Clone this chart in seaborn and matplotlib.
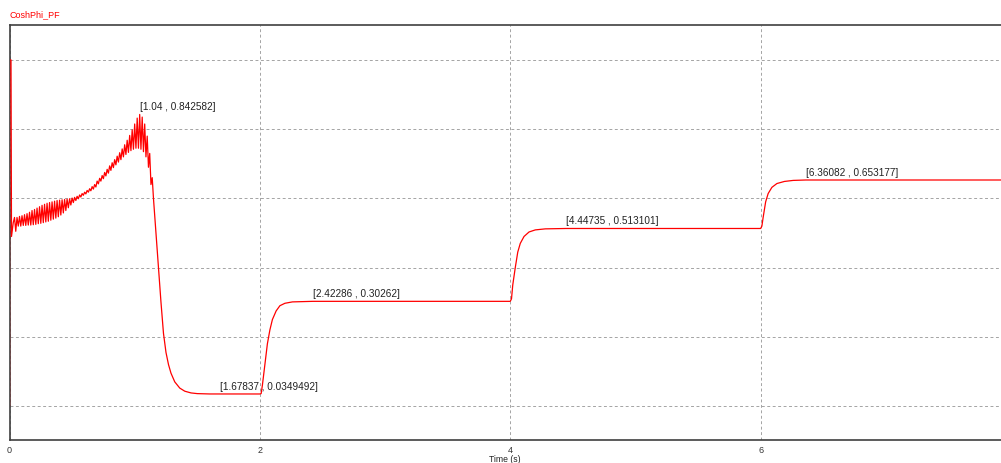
import numpy as np
import pandas as pd
import matplotlib
matplotlib.use("Agg")
import matplotlib.pyplot as plt
import seaborn as sns

# ---- power-factor trace (time in s, CoshPhi) ----
# start-up transient before the ripple
start_t = [0.0, 0.0, 0.012, 0.016, 0.03]
start_v = [0.0, 1.0, 1.0, 0.49, 0.53]

# 50 Hz ripple: crest values at ripple_t, trough values half a period later
ripple_t = [0.04, 0.06, 0.08, 0.10, 0.12, 0.14, 0.16, 0.18, 0.20, 0.22,
            0.24, 0.26, 0.28, 0.30, 0.32, 0.34, 0.36, 0.38, 0.40, 0.42,
            0.44, 0.46, 0.48, 0.50, 0.52, 0.54, 0.56, 0.58, 0.60, 0.62,
            0.64, 0.66, 0.68, 0.70, 0.72, 0.74, 0.76, 0.78, 0.80, 0.82,
            0.84, 0.86, 0.88, 0.90, 0.92, 0.94, 0.96, 0.98, 1.00, 1.02,
            1.04, 1.06, 1.08, 1.10, 1.12]
ripple_hi = [0.545, 0.545, 0.548, 0.550, 0.553, 0.556, 0.560, 0.565, 0.568, 0.572,
             0.576, 0.580, 0.583, 0.586, 0.588, 0.590, 0.592, 0.594, 0.595, 0.596,
             0.597, 0.598, 0.599, 0.601, 0.603, 0.606, 0.610, 0.614, 0.618, 0.623,
             0.628, 0.634, 0.640, 0.650, 0.658, 0.666, 0.675, 0.684, 0.694, 0.703,
             0.712, 0.722, 0.732, 0.743, 0.755, 0.768, 0.782, 0.798, 0.815, 0.832,
             0.842582, 0.835, 0.815, 0.780, 0.730]
ripple_lo = [0.505, 0.520, 0.520, 0.522, 0.522, 0.523, 0.523, 0.524, 0.525, 0.527,
             0.528, 0.530, 0.532, 0.534, 0.537, 0.540, 0.543, 0.547, 0.552, 0.558,
             0.565, 0.573, 0.581, 0.588, 0.594, 0.599, 0.604, 0.609, 0.613, 0.618,
             0.622, 0.627, 0.633, 0.642, 0.650, 0.657, 0.665, 0.673, 0.681, 0.689,
             0.697, 0.705, 0.712, 0.720, 0.727, 0.733, 0.738, 0.742, 0.745, 0.745,
             0.742, 0.735, 0.720, 0.690, 0.640]
ripple_half_period = 0.01

# collapse, then three load steps
rest_t = [1.14, 1.15, 1.17, 1.19, 1.21, 1.23, 1.25, 1.27, 1.29, 1.32, 1.36,
          1.40, 1.45, 1.50, 1.60, 1.67837, 2.0,
          2.01, 2.02, 2.04, 2.06, 2.08, 2.10, 2.13, 2.16, 2.20, 2.26, 2.42286, 4.0,
          4.01, 4.02, 4.04, 4.06, 4.08, 4.11, 4.15, 4.20, 4.28, 4.44735, 6.0,
          6.01, 6.02, 6.04, 6.06, 6.09, 6.13, 6.19, 6.26, 6.36082, 7.92]
rest_v = [0.66, 0.60, 0.50, 0.40, 0.30, 0.21, 0.155, 0.12, 0.095, 0.07, 0.052,
          0.043, 0.038, 0.036, 0.035, 0.0349492, 0.0349492,
          0.036, 0.06, 0.12, 0.18, 0.22, 0.25, 0.275, 0.29, 0.297, 0.301, 0.30262, 0.30262,
          0.31, 0.35, 0.40, 0.445, 0.47, 0.49, 0.503, 0.509, 0.512, 0.513101, 0.513101,
          0.52, 0.545, 0.59, 0.614, 0.632, 0.643, 0.649, 0.652, 0.653177, 0.653177]

# labelled points (t, value)
marker_t = [1.04, 1.67837, 2.42286, 4.44735, 6.36082]
marker_v = [0.842582, 0.0349492, 0.30262, 0.513101, 0.653177]
marker_labels = ["[1.04 , 0.842582]", "[1.67837 , 0.0349492]", "[2.42286 , 0.30262]",
                 "[4.44735 , 0.513101]", "[6.36082 , 0.653177]"]

x_ticks = [0, 2, 4, 6]
x_tick_labels = ["0", "2", "4", "6"]
y_grid = [0.0, 0.2, 0.4, 0.6, 0.8, 1.0]

# ---- assemble the trace ----
rt = np.asarray(ripple_t)
zig_t = np.column_stack([rt, rt + ripple_half_period]).ravel()
zig_v = np.column_stack([ripple_hi, ripple_lo]).ravel()
t_all = np.concatenate([start_t, zig_t, rest_t])
v_all = np.concatenate([start_v, zig_v, rest_v])
df = pd.DataFrame({"Time (s)": t_all, "CoshPhi_PF": v_all})

sns.set_theme(style="white")
plt.rcParams["font.family"] = ["Liberation Sans", "DejaVu Sans"]

fig = plt.figure(figsize=(10.01, 4.63), dpi=100)
ax = fig.add_axes([9.5 / 1001, 23 / 463, 991.5 / 1001, 415 / 463])

sns.lineplot(data=df, x="Time (s)", y="CoshPhi_PF", sort=False, estimator=None,
             color="#ff0000", linewidth=0.9, ax=ax, zorder=5)

ax.set_xlim(0, 7.92)
ax.set_ylim(-0.098, 1.101)

ax.set_xticks(x_ticks)
ax.set_xticklabels(x_tick_labels)
ax.set_yticks(y_grid)
ax.set_yticklabels([])
ax.tick_params(axis="both", length=0)
ax.tick_params(axis="x", pad=4, labelsize=6.5, colors="#333333")
ax.grid(True, color="#a4a4a4", linestyle=(0, (3, 2.6)), linewidth=0.7)

for side in ("top", "left", "bottom"):
    ax.spines[side].set_color("#404040")
    ax.spines[side].set_linewidth(1.2)
    ax.spines[side].set_zorder(2)
ax.spines["right"].set_visible(False)

ax.set_xlabel("Time (s)", fontsize=6.2, color="#222222")
ax.xaxis.set_label_coords(0.5, -0.048)
ax.xaxis.label.set_va("center")
ax.set_ylabel("")

for tx, vy, lab in zip(marker_t, marker_v, marker_labels):
    ax.annotate(lab, (tx, vy), xytext=(0, 1.5), textcoords="offset points",
                ha="left", va="bottom", fontsize=7.2, color="#222222", zorder=6)

fig.text(9 / 1001, 1 - 15 / 463, "CoshPhi_PF", color="#ff0000", fontsize=6.5,
         ha="left", va="center")

fig.savefig("out.png", dpi=100)
